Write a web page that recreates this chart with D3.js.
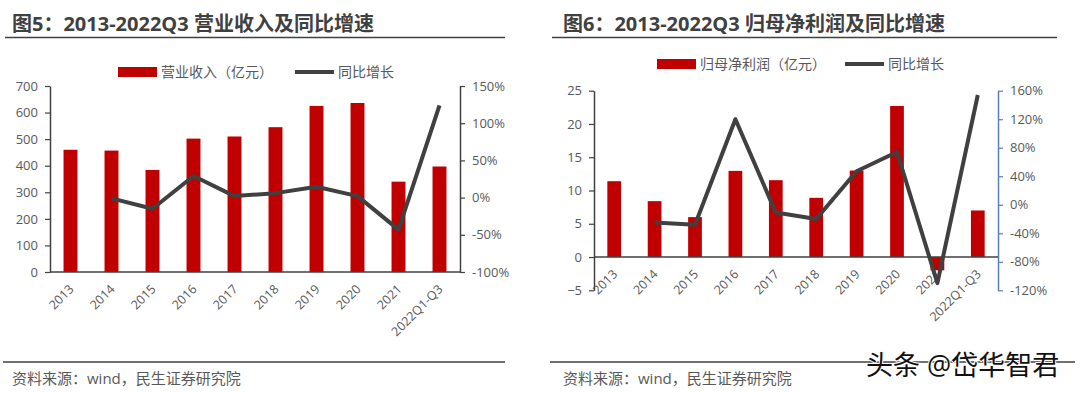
<!DOCTYPE html>
<html>
<head>
<meta charset="utf-8">
<script src="https://cdn.jsdelivr.net/npm/d3@7"></script>
<style>
  body { margin: 0; background: #fff; }
  svg text { font-family: "Open Sans", "Noto Sans CJK SC", sans-serif; }
</style>
</head>
<body>
<div id="chart"></div>
<script>
const svgWidth = 1080
const svgHeight = 393

// categories shared by both panels
const years = ["2013", "2014", "2015", "2016", "2017", "2018", "2019", "2020", "2021", "2022Q1-Q3"]

// fig 5: revenue (100m yuan) and yoy growth (%)
const revenue = [460, 457, 384, 502, 510, 545, 625, 636, 340, 397]
const revenueGrowth = [null, -1, -15, 29, 2, 6, 14.5, 2, -43, 124]

// fig 6: net profit attributable (100m yuan) and yoy growth (%)
const profit = [11.4, 8.4, 6.0, 12.95, 11.55, 8.9, 13.0, 22.7, -2.0, 7.0]
const profitGrowth = [null, -25, -28, 120, -11, -20, 47, 74, -110, 154]

const leftTicks5 = [0, 100, 200, 300, 400, 500, 600, 700]
const rightTicks5 = [-100, -50, 0, 50, 100, 150]
const leftTicks6 = [-5, 0, 5, 10, 15, 20, 25]
const rightTicks6 = [-120, -80, -40, 0, 40, 80, 120, 160]

const barColor = "#c00000"
const lineColor = "#404040"
const textColor = "#595959"

let svg = d3
  .select("#chart")
  .append("svg")
  .attr("width", svgWidth)
  .attr("height", svgHeight)

function drawPanel(opt) {
  let g = svg.append("g")

  // title and rules
  g.append("text")
    .attr("x", opt.titleX)
    .attr("y", 31)
    .style("font-size", "20px")
    .style("font-weight", "bold")
    .style("fill", "#404040")
    .text(opt.title)

  g.append("line")
    .attr("x1", opt.ruleX1).attr("x2", opt.ruleX2)
    .attr("y1", 37.5).attr("y2", 37.5)
    .attr("stroke", "#404040").attr("stroke-width", 1.5)

  g.append("line")
    .attr("x1", opt.ruleX1 - 2).attr("x2", opt.bottomRuleX2)
    .attr("y1", 362).attr("y2", 362)
    .attr("stroke", "#404040").attr("stroke-width", 1.5)

  g.append("text")
    .attr("x", opt.titleX)
    .attr("y", 384)
    .style("font-size", "15px")
    .style("fill", textColor)
    .text("资料来源：wind，民生证券研究院")

  // scales
  let x = d3.scaleBand()
    .domain(years)
    .range([opt.x0, opt.x1])
    .paddingInner(0.66)
    .paddingOuter(0.33)

  let yL = d3.scaleLinear()
    .domain(opt.leftDomain)
    .range([opt.yBottom, opt.yTop])

  let yR = d3.scaleLinear()
    .domain(opt.rightDomain)
    .range([opt.yBottom, opt.yTop])

  // axes
  let leftAxis = g.append("g")
    .attr("transform", `translate(${opt.x0},0)`)
    .call(d3.axisLeft(yL).tickValues(opt.leftTicks).tickSize(5).tickPadding(7).tickSizeOuter(0))
  leftAxis.select(".domain").attr("stroke", "#404040").attr("stroke-width", 1.5)
  leftAxis.selectAll(".tick line").attr("stroke", "#404040").attr("stroke-width", 1.2)
  leftAxis.selectAll("text").style("font-size", "13px").style("fill", textColor)

  let rightAxis = g.append("g")
    .attr("transform", `translate(${opt.x1},0)`)
    .call(d3.axisRight(yR).tickValues(opt.rightTicks).tickSize(5).tickPadding(7).tickSizeOuter(0)
      .tickFormat(d => d + "%"))
  rightAxis.select(".domain").attr("stroke", opt.rightAxisColor).attr("stroke-width", 1.5)
  rightAxis.selectAll(".tick line").attr("stroke", opt.rightAxisColor).attr("stroke-width", 1.2)
  rightAxis.selectAll("text").style("font-size", "13px").style("fill", textColor)

  // bars
  g.append("g")
    .selectAll("rect")
    .data(opt.bars)
    .enter()
    .append("rect")
    .attr("x", (d, i) => x(years[i]))
    .attr("width", x.bandwidth())
    .attr("y", d => yL(Math.max(0, d)))
    .attr("height", d => Math.abs(yL(d) - yL(0)))
    .attr("fill", barColor)

  // category axis at zero
  g.append("line")
    .attr("x1", opt.x0).attr("x2", opt.x1)
    .attr("y1", yL(0)).attr("y2", yL(0))
    .attr("stroke", "#404040").attr("stroke-width", 1.5)

  // category labels
  g.append("g")
    .selectAll("text")
    .data(years)
    .enter()
    .append("text")
    .attr("transform", d => `translate(${x(d) + x.bandwidth() / 2 + 4},${yL(0) + 18})rotate(-45)`)
    .style("text-anchor", "end")
    .style("font-size", "12.5px")
    .style("fill", textColor)
    .text(d => d)

  // growth line
  let line = d3.line()
    .defined(d => d != null)
    .x((d, i) => x(years[i]) + x.bandwidth() / 2)
    .y(d => yR(d))

  g.append("path")
    .datum(opt.growth)
    .attr("d", line)
    .attr("fill", "none")
    .attr("stroke", lineColor)
    .attr("stroke-width", 4)
    .attr("stroke-linejoin", "round")

  // legend
  let lg = g.append("g").attr("transform", `translate(0,${opt.legendY})`)
  lg.append("rect")
    .attr("x", opt.legendX).attr("y", -5)
    .attr("width", 39).attr("height", 10)
    .attr("fill", barColor)
  lg.append("text")
    .attr("x", opt.legendX + 43).attr("y", 0)
    .attr("dy", "0.35em")
    .style("font-size", "14px")
    .style("fill", textColor)
    .text(opt.barName)
  lg.append("line")
    .attr("x1", opt.legendLineX).attr("x2", opt.legendLineX + 39)
    .attr("y1", 0).attr("y2", 0)
    .attr("stroke", lineColor).attr("stroke-width", 4)
  lg.append("text")
    .attr("x", opt.legendLineX + 43).attr("y", 0)
    .attr("dy", "0.35em")
    .style("font-size", "14px")
    .style("fill", textColor)
    .text("同比增长")
}

drawPanel({
  title: "图5：2013-2022Q3 营业收入及同比增速",
  titleX: 12, ruleX1: 5, ruleX2: 505, bottomRuleX2: 505,
  x0: 50, x1: 460, yTop: 86, yBottom: 272,
  leftDomain: [0, 700], rightDomain: [-100, 150],
  leftTicks: leftTicks5, rightTicks: rightTicks5,
  rightAxisColor: "#404040",
  bars: revenue, growth: revenueGrowth,
  barName: "营业收入（亿元）",
  legendY: 72, legendX: 118, legendLineX: 295
})

drawPanel({
  title: "图6：2013-2022Q3 归母净利润及同比增速",
  titleX: 563, ruleX1: 552, ruleX2: 1057, bottomRuleX2: 1075,
  x0: 594, x1: 998, yTop: 90.7, yBottom: 290.3,
  leftDomain: [-5, 25], rightDomain: [-120, 160],
  leftTicks: leftTicks6, rightTicks: rightTicks6,
  rightAxisColor: "#5b7cc0",
  bars: profit, growth: profitGrowth,
  barName: "归母净利润（亿元）",
  legendY: 64, legendX: 657, legendLineX: 845
})

// watermark
svg.append("text")
  .attr("x", 866)
  .attr("y", 375)
  .style("font-size", "27px")
  .style("fill", "#111")
  .style("stroke", "#fff")
  .style("stroke-width", 2)
  .style("paint-order", "stroke")
  .text("头条 @岱华智君")
</script>
</body>
</html>
